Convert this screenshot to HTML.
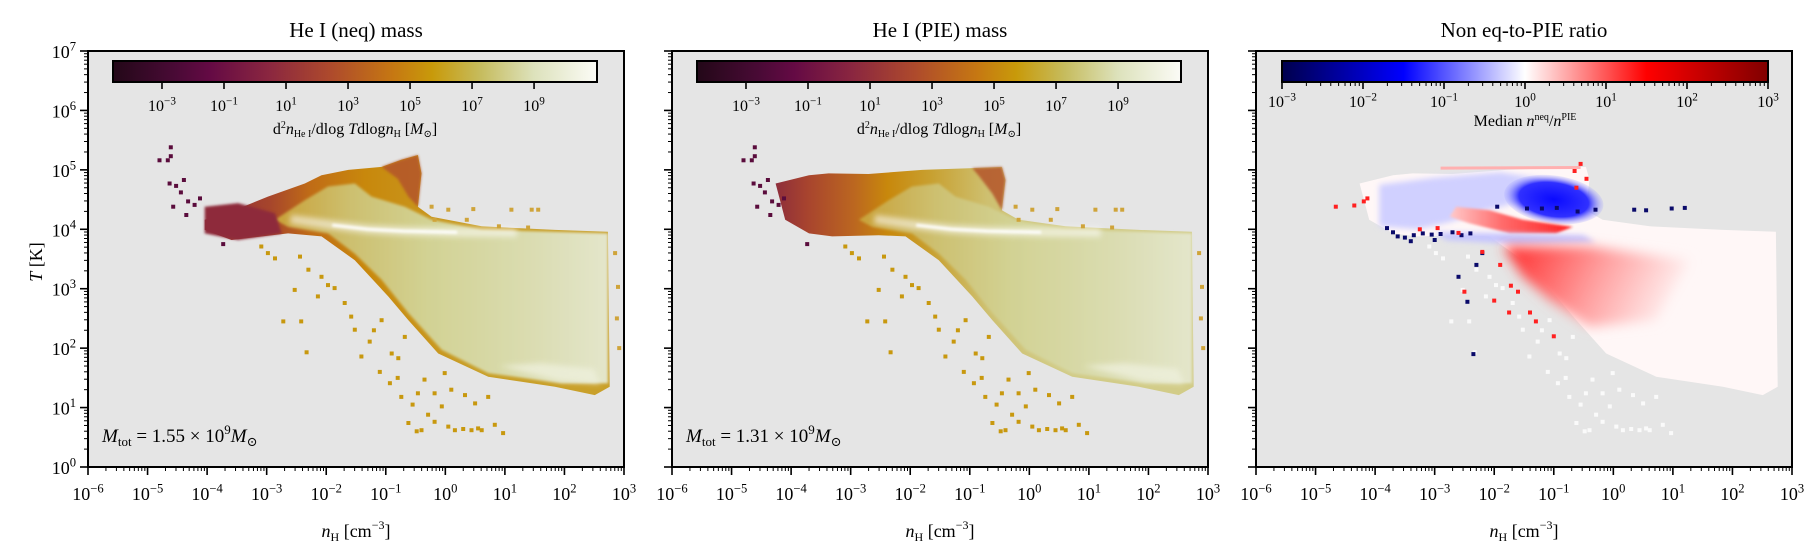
<!DOCTYPE html>
<html><head><meta charset="utf-8"><style>
html,body{margin:0;padding:0;background:#fff;}
svg{display:block;font-family:"Liberation Serif","DejaVu Serif",serif;}
</style></head><body>
<svg id="fig" width="1820" height="560" viewBox="0 0 1820 560" xmlns="http://www.w3.org/2000/svg">
<defs>
<filter id="blur1" x="-20%" y="-50%" width="140%" height="200%"><feGaussianBlur stdDeviation="1.2"/></filter>
<filter id="blur3" x="-30%" y="-80%" width="160%" height="260%"><feGaussianBlur stdDeviation="3"/></filter>
<filter id="blur6" x="-40%" y="-80%" width="180%" height="260%"><feGaussianBlur stdDeviation="6"/></filter>
<linearGradient id="cbHeat" x1="0" x2="1" y1="0" y2="0">
<stop offset="0" stop-color="#230818"/><stop offset="0.13" stop-color="#4a0a36"/><stop offset="0.2" stop-color="#640a44"/>
<stop offset="0.32" stop-color="#8a2640"/><stop offset="0.45" stop-color="#ae4a2c"/><stop offset="0.58" stop-color="#c67812"/>
<stop offset="0.66" stop-color="#c89a0a"/><stop offset="0.76" stop-color="#c6bc5e"/><stop offset="0.87" stop-color="#dde2bc"/>
<stop offset="1" stop-color="#fbfbf6"/></linearGradient>
<linearGradient id="cbSeis" x1="0" x2="1" y1="0" y2="0">
<stop offset="0" stop-color="#00004c"/><stop offset="0.25" stop-color="#0000ff"/><stop offset="0.5" stop-color="#ffffff"/>
<stop offset="0.75" stop-color="#ff0000"/><stop offset="1" stop-color="#800000"/></linearGradient>
</defs>
<g id="root"></g>
</svg>
<script>
// ---------- data (log10 nH, log10 T) ----------
const xTickExps=[-6,-5,-4,-3,-2,-1,0,1,2,3];
const yTickExps=[0,1,2,3,4,5,6,7];
const cbHeatExps=[-3,-1,1,3,5,7,9];
const cbSeisExps=[-3,-2,-1,0,1,2,3];
const titles=["He I (neq) mass","He I (PIE) mass","Non eq-to-PIE ratio"];
const totalMassMantissa=["1.55","1.31"];
const totalMassExp=[9,9];
const outer1=[[-4.04,4.16],[-3.59,4.30],[-2.98,4.55],[-2.36,4.77],[-2.08,4.91],[-1.63,5.00],[-1.07,5.05],[-0.74,5.17],[-0.46,5.25],[-0.40,4.94],[-0.46,4.38],[-0.23,4.21],[0.61,4.05],[1.84,3.99],[2.73,3.96],[2.76,1.35],[2.51,1.21],[1.84,1.35],[0.72,1.52],[-0.12,1.91],[-0.62,2.47],[-0.96,2.87],[-1.52,3.48],[-2.08,3.88],[-2.64,3.93],[-3.59,3.82],[-4.04,3.99]];
const inner1=[[-2.86,4.16],[-2.36,4.49],[-1.97,4.72],[-1.52,4.77],[-1.24,4.55],[-0.68,4.38],[-0.23,4.16],[0.61,3.99],[2.73,3.93],[2.73,1.41],[1.95,1.41],[0.72,1.58],[-0.06,1.97],[-0.62,2.59],[-1.07,3.15],[-1.52,3.59],[-1.97,3.93],[-2.64,4.04]];
const redBlob1=[[-4.04,4.38],[-3.48,4.44],[-2.86,4.27],[-2.75,3.93],[-3.48,3.82],[-4.04,3.93]];
const hump1=[[-1.07,5.05],[-0.74,5.17],[-0.46,5.25],[-0.40,4.94],[-0.46,4.38],[-0.62,4.55],[-0.80,4.85]];
const outer2=[[-4.26,4.77],[-3.70,4.91],[-3.37,4.94],[-2.70,4.93],[-1.80,5.00],[-0.96,5.03],[-0.46,5.05],[-0.40,4.83],[-0.46,4.32],[-0.18,4.16],[0.61,4.05],[1.84,3.99],[2.73,3.96],[2.76,1.35],[2.51,1.21],[1.84,1.35],[0.72,1.52],[-0.12,1.91],[-0.62,2.47],[-0.96,2.87],[-1.52,3.48],[-2.08,3.88],[-2.53,3.90],[-3.31,3.88],[-3.70,3.93],[-4.10,4.16]];
const hump2=[[-0.96,5.03],[-0.46,5.05],[-0.40,4.83],[-0.46,4.32],[-0.62,4.60],[-0.85,4.90]];
const ridge=[[-2.6,4.17],[-1.9,4.07],[-1.3,4.00],[-0.7,3.97],[0.2,3.95],[1.2,3.95]];
const lowerLight=[[0.9,1.70],[1.9,1.45],[2.6,1.40],[2.5,1.65],[1.6,1.75]];
const blueHalo3=[[-3.93,4.75],[-3.0,4.87],[-1.9,4.96],[-1.2,4.85],[-1.6,4.45],[-2.2,4.30],[-2.75,4.12],[-3.3,4.00],[-3.93,4.05]];
const blueCore3=[-1.0,4.50];
const redBand3=[[-2.75,4.21],[-2.64,4.38],[-2.08,4.32],[-1.52,4.16],[-0.68,4.04],[-0.96,3.93],[-1.74,3.93],[-2.42,4.10]];
const lowBlue3=[[-3.0,3.95],[-1.8,3.93],[-0.5,3.90],[-0.3,3.78],[-1.6,3.75],[-2.8,3.82]];
const redFan3=[[-1.86,3.71],[-0.40,3.71],[1.28,3.48],[0.72,2.47],[-0.40,2.36],[-1.07,2.81],[-1.52,3.20]];
const topLine3=[[-2.9,5.03],[-0.55,5.04]];
const scatterLow=[[-2.72,2.45],[-2.42,2.45],[-2.33,1.93],[-2.53,2.98],[-2.14,2.87],[-1.97,3.06],[-1.86,3.01],[-1.69,2.76],[-1.58,2.53],[-1.52,2.31],[-1.27,2.11],[-1.41,1.86],[-1.10,1.60],[-0.93,1.41],[-0.74,1.18],[-0.62,0.74],[-0.48,0.60],[-0.29,0.88],[-0.18,0.76],[-0.06,1.02],[0.16,0.62],[0.33,1.21],[0.44,0.62],[0.61,0.62],[0.83,0.71],[0.97,0.57],[-0.35,1.47],[-0.01,1.58],[-0.90,1.91],[-0.79,1.83],[-0.46,1.24],[-0.68,2.19],[-1.07,2.47],[-2.08,3.20],[-2.30,3.32],[-2.44,3.54],[-2.86,3.51],[-2.98,3.60],[-3.09,3.71],[-0.40,0.62],[0.05,0.68],[-0.18,1.24],[0.10,1.30],[0.50,1.07],[0.72,1.18],[0.30,0.64],[0.55,0.65],[-0.55,1.05],[-0.80,1.50],[-1.20,2.30]];
const scatterTopLeft=[[-4.80,5.16],[-4.66,5.16],[-4.61,5.38],[-4.61,5.23],[-4.63,4.77],[-4.52,4.73],[-4.39,4.83],[-4.44,4.62],[-4.32,4.47],[-4.21,4.41],[-4.12,4.52],[-4.57,4.38],[-4.35,4.24],[-3.73,3.75]];
const scatterRight=[[0.05,4.33],[0.47,4.34],[1.11,4.33],[1.45,4.33],[1.56,4.33],[-0.23,4.38],[-0.18,4.16],[0.36,4.16],[1.39,4.03],[0.9,4.05],[2.85,3.60],[2.90,3.03],[2.88,2.50],[2.92,2.00]];
const scatterNavy3=[[-3.80,4.02],[-3.62,3.88],[-3.50,3.86],[-3.35,3.90],[-3.20,3.93],[-3.05,3.91],[-2.90,3.92],[-2.70,3.95],[-2.55,3.90],[-2.40,3.93],[-3.70,3.95],[-3.40,3.80],[-3.00,3.82],[-2.20,3.60],[-2.30,3.40],[-2.60,3.20],[-2.45,2.78],[-2.35,1.90],[-1.95,4.38],[-1.45,4.35],[-1.20,4.35],[-0.95,4.36],[-0.60,4.30],[-0.30,4.33],[0.35,4.33],[0.55,4.32],[0.98,4.35],[1.20,4.36]];
const scatterRed3=[[-4.66,4.38],[-4.35,4.40],[-4.13,4.52],[-4.19,4.47],[-3.25,4.0],[-2.95,4.02],[-2.60,3.94],[-2.20,3.62],[-1.90,3.40],[-1.72,3.05],[-1.60,2.95],[-1.40,2.60],[-1.30,2.45],[-1.00,2.20],[-0.55,5.10],[-0.65,4.98],[-0.45,4.85],[-0.62,4.70],[-2.50,2.95],[-2.00,2.80],[-1.75,2.60]];

const X0=[88,672,1256], W=536, Y0=51, H=416;
function fx(p,v){return X0[p]+(v+6)/9*W;}
function fy(v){return Y0+H-v/7*H;}
const NS="http://www.w3.org/2000/svg";
const root=document.getElementById('root');
function el(tag,attrs,parent){const e=document.createElementNS(NS,tag);for(const k in attrs)e.setAttribute(k,attrs[k]);(parent||root).appendChild(e);return e;}
function pts(p,arr){return arr.map(d=>fx(p,d[0]).toFixed(1)+','+fy(d[1]).toFixed(1)).join(' ');}
function supText(parent,x,y,base,exp,size,anchor){
  const t=el('text',{x:x,y:y,'font-size':size,'text-anchor':anchor||'middle',fill:'#000'},parent);
  const a=el('tspan',{},t);a.textContent=base;
  const b=el('tspan',{'font-size':size*0.7,dy:-size*0.42},t);b.textContent=exp;
  return t;
}
function fmtExp(e){return e<0?'\u2212'+Math.abs(e):String(e);}
const defs=document.querySelector('defs');
function linGrad(id,x1,x2,stops){
  const g=el('linearGradient',{id:id,gradientUnits:'userSpaceOnUse',x1:x1,x2:x2,y1:0,y2:0},defs);
  stops.forEach(s=>el('stop',{offset:s[0],'stop-color':s[1]},g));
}
function scatter(g,p,arr,color,name){
  arr.forEach(d=>{
    const r=el('rect',{x:(fx(p,d[0])-2).toFixed(1),y:(fy(d[1])-2).toFixed(1),width:4,height:4,fill:color},g);
    
    
  });
}

for(let p=0;p<3;p++){
  const panel=el('g',{});
  
  
  const cp=el('clipPath',{id:'clip'+p},defs);
  el('rect',{x:X0[p],y:Y0,width:W,height:H},cp);
  const bg=el('rect',{x:X0[p],y:Y0,width:W,height:H,fill:'#e5e5e5'},panel);
  
  
  const data=el('g',{'clip-path':'url(#clip'+p+')'},panel);
  
  

  if(p<2){
    const oid='gOut'+p, iid='gIn'+p;
    if(p===0){
      linGrad(oid,fx(p,-4.1),fx(p,0.5),[[0,'#8c2a3a'],[0.25,'#a6452c'],[0.4,'#c06c16'],[0.6,'#c8880c'],[1,'#c9a02a']]);
    } else {
      linGrad(oid,fx(p,-4.3),fx(p,0.5),[[0,'#8c2c3c'],[0.12,'#a8442e'],[0.28,'#bb6620'],[0.4,'#c8880c'],[0.55,'#c8a030'],[0.75,'#cec070'],[1,'#d2cc88']]);
    }
    linGrad(iid,fx(p,-2.8),fx(p,2.8),[[0,'#c9a23a'],[0.22,'#cdc070'],[0.45,'#d2d294'],[0.75,'#dadcb0'],[1,'#e4e6cc']]);
    const o=el('polygon',{points:pts(p,p===0?outer1:outer2),fill:'url(#'+oid+')'},data);
    
    
    const i=el('polygon',{points:pts(p,inner1),fill:'url(#'+iid+')',filter:'url(#blur1)'},data);
    
    
    const hu=el('polygon',{points:pts(p,p===0?hump1:hump2),fill:'#b4552a',opacity:0.85,filter:'url(#blur1)'},data);
    
    
    if(p===0){
      const rb=el('polygon',{points:pts(p,redBlob1),fill:'#8e2c3a',filter:'url(#blur1)'},data);
      
      
    }
    const ll=el('polygon',{points:pts(p,lowerLight),fill:'#eef0dc',opacity:0.8,filter:'url(#blur3)'},data);
    
    
    const rg=el('polyline',{points:pts(p,ridge),fill:'none',stroke:'#ffffff','stroke-width':9,opacity:0.55,filter:'url(#blur3)'},data);
    
    
    const rl=el('polyline',{points:pts(p,ridge.slice(1,5)),fill:'none',stroke:'#ffffff','stroke-width':3,opacity:0.95,filter:'url(#blur1)'},data);
    
    
    scatter(data,p,scatterLow,'#c8980e','sparse-bin');
    scatter(data,p,scatterTopLeft,'#5a0c3c','sparse-bin');
    scatter(data,p,scatterRight,'#cfa43a','sparse-bin');
    const t=el('text',{x:X0[p]+14,y:442,'font-size':19,fill:'#000'},panel);
    
    
    const a=el('tspan',{'font-style':'italic'},t);a.textContent='M';
    const b=el('tspan',{'font-size':13,dy:4},t);b.textContent='tot';
    const c=el('tspan',{dy:-4},t);c.textContent=' = '+totalMassMantissa[p]+' \u00d7 10';
    const d=el('tspan',{'font-size':13,dy:-8},t);d.textContent=String(totalMassExp[p]);
    const e=el('tspan',{'font-style':'italic',dy:8},t);e.textContent='M';
    const f=el('tspan',{'font-size':13,dy:4},t);f.textContent='\u2299';
  } else {
    const body=el('polygon',{points:pts(p,outer2),fill:'#fff7f7'},data);
    
    
    const bh=el('polygon',{points:pts(p,blueHalo3),fill:'#d0d0ff',filter:'url(#blur3)'},data);
    
    
    const rad=el('radialGradient',{id:'gBlue',cx:0.5,cy:0.5,r:0.5},defs);
    el('stop',{offset:0,'stop-color':'#0a0aff'},rad);
    el('stop',{offset:0.7,'stop-color':'#3030ff'},rad);
    el('stop',{offset:1,'stop-color':'#a0a0ff','stop-opacity':0.2},rad);
    const bc=el('ellipse',{cx:fx(p,blueCore3[0]),cy:fy(blueCore3[1]),rx:50,ry:24,fill:'url(#gBlue)',transform:'rotate(8 '+fx(p,blueCore3[0])+' '+fy(blueCore3[1])+')'},data);
    
    
    linGrad('gRed3',fx(p,-2.8),fx(p,-0.7),[[0,'#ffd0d0'],[0.45,'#ff6a6a'],[1,'#ff2020']]);
    const rb=el('polygon',{points:pts(p,redBand3),fill:'url(#gRed3)',filter:'url(#blur1)'},data);
    
    
    const lb=el('polygon',{points:pts(p,lowBlue3),fill:'#c4c4ff',filter:'url(#blur3)'},data);
    
    
    const fg=el('linearGradient',{id:'gFan',gradientUnits:'userSpaceOnUse',x1:fx(p,-1.6),y1:fy(3.6),x2:fx(p,0.9),y2:fy(2.4)},defs);
    el('stop',{offset:0,'stop-color':'#ff3c3c'},fg);
    el('stop',{offset:0.5,'stop-color':'#ffa0a0'},fg);
    el('stop',{offset:1,'stop-color':'#fff4f4'},fg);
    const rf=el('polygon',{points:pts(p,redFan3),fill:'url(#gFan)',filter:'url(#blur6)'},data);
    
    
    const tl=el('polyline',{points:pts(p,topLine3),stroke:'#ffb0b0','stroke-width':3,fill:'none'},data);
    
    
    scatter(data,p,scatterLow,'#fafafa','sparse-bin');
    scatter(data,p,scatterNavy3,'#0a0a6a','sparse-bin');
    scatter(data,p,scatterRed3,'#ff2020','sparse-bin');
  }

  const fr=el('rect',{x:X0[p],y:Y0,width:W,height:H,fill:'none',stroke:'#000','stroke-width':2},panel);
  
  
  const xg=el('g',{},panel);
  
  
  xTickExps.forEach((e,k)=>{
    const x=fx(p,e);
    el('line',{x1:x,x2:x,y1:Y0+H,y2:Y0+H+8,stroke:'#000','stroke-width':1.6},xg);
    const lab=supText(xg,x,Y0+H+33,'10',fmtExp(e),18);
    
    
    if(k<xTickExps.length-1){
      for(let m=2;m<10;m++){const xm=fx(p,e+Math.log10(m));el('line',{x1:xm,x2:xm,y1:Y0+H,y2:Y0+H+4,stroke:'#000','stroke-width':1},xg);}
    }
  });
  const xt=el('text',{x:X0[p]+W/2,y:537,'font-size':18,'text-anchor':'middle'},panel);
  
  
  let s=el('tspan',{'font-style':'italic'},xt);s.textContent='n';
  s=el('tspan',{'font-size':12,dy:4},xt);s.textContent='H';
  s=el('tspan',{dy:-4},xt);s.textContent=' [cm';
  s=el('tspan',{'font-size':12,dy:-8},xt);s.textContent='\u22123';
  s=el('tspan',{dy:8},xt);s.textContent=']';
  const yg=el('g',{},panel);
  
  
  yTickExps.forEach((e,k)=>{
    const y=fy(e);
    el('line',{x1:X0[p]-8,x2:X0[p],y1:y,y2:y,stroke:'#000','stroke-width':1.6},yg);
    if(p===0){
      const lab=supText(yg,X0[p]-12,y+7,'10',fmtExp(e),18,'end');
      
      
    }
    if(k<yTickExps.length-1){
      for(let m=2;m<10;m++){const ym=fy(e+Math.log10(m));el('line',{x1:X0[p]-4,x2:X0[p],y1:ym,y2:ym,stroke:'#000','stroke-width':1},yg);}
    }
  });
  const ti=el('text',{x:X0[p]+W/2,y:37,'font-size':21,'text-anchor':'middle'},panel);
  ti.textContent=titles[p];
  
  

  const cb=el('g',{},panel);
  
  
  if(p<2){
    const cx0=X0[p]+25, cx1=X0[p]+509, cbY=61, cbH=21;
    const lo=-4.58, hi=11.03;
    const cfx=v=>cx0+(v-lo)/(hi-lo)*(cx1-cx0);
    el('rect',{x:cx0,y:cbY,width:cx1-cx0,height:cbH,fill:'url(#cbHeat)',stroke:'#000','stroke-width':2},cb);
    cbHeatExps.forEach(e=>{
      const x=cfx(e);
      el('line',{x1:x,x2:x,y1:cbY+cbH,y2:cbY+cbH+7,stroke:'#000','stroke-width':1.6},cb);
      const lab=supText(cb,x,cbY+cbH+29,'10',fmtExp(e),16);
      
      
    });
    const cl=el('text',{x:(cx0+cx1)/2,y:134,'font-size':16,'text-anchor':'middle'},cb);
    
    
    let q=el('tspan',{},cl);q.textContent='d';
    q=el('tspan',{'font-size':10,dy:-6},cl);q.textContent='2';
    q=el('tspan',{'font-style':'italic',dy:6},cl);q.textContent='n';
    q=el('tspan',{'font-size':10,dy:3},cl);q.textContent='He I';
    q=el('tspan',{dy:-3},cl);q.textContent='/dlog';
    q=el('tspan',{'font-style':'italic'},cl);q.textContent=' T';
    q=el('tspan',{},cl);q.textContent='dlog';
    q=el('tspan',{'font-style':'italic'},cl);q.textContent='n';
    q=el('tspan',{'font-size':10,dy:3},cl);q.textContent='H';
    q=el('tspan',{dy:-3},cl);q.textContent='  [';
    q=el('tspan',{'font-style':'italic'},cl);q.textContent='M';
    q=el('tspan',{'font-size':10,dy:3},cl);q.textContent='\u2299';
    q=el('tspan',{dy:-3},cl);q.textContent=']';
  } else {
    const cx0=X0[p]+26, cx1=X0[p]+512, cbY=61, cbH=21;
    const cfx=v=>cx0+(v+3)/6*(cx1-cx0);
    el('rect',{x:cx0,y:cbY,width:cx1-cx0,height:cbH,fill:'url(#cbSeis)',stroke:'#000','stroke-width':2},cb);
    cbSeisExps.forEach((e,k)=>{
      const x=cfx(e);
      el('line',{x1:x,x2:x,y1:cbY+cbH,y2:cbY+cbH+7,stroke:'#000','stroke-width':1.6},cb);
      if(k<cbSeisExps.length-1){for(let m=2;m<10;m++){const xm=cfx(e+Math.log10(m));el('line',{x1:xm,x2:xm,y1:cbY+cbH,y2:cbY+cbH+4,stroke:'#000','stroke-width':1},cb);}}
      const lab=supText(cb,x,cbY+cbH+25,'10',fmtExp(e),16);
      
      
    });
    const cl=el('text',{x:(cx0+cx1)/2,y:126,'font-size':16,'text-anchor':'middle'},cb);
    
    
    let q=el('tspan',{},cl);q.textContent='Median ';
    q=el('tspan',{'font-style':'italic'},cl);q.textContent='n';
    q=el('tspan',{'font-size':10,dy:-6},cl);q.textContent='neq';
    q=el('tspan',{dy:6},cl);q.textContent='/';
    q=el('tspan',{'font-style':'italic'},cl);q.textContent='n';
    q=el('tspan',{'font-size':10,dy:-6},cl);q.textContent='PIE';
  }
}
const yt=el('text',{x:0,y:0,'font-size':18,'text-anchor':'middle',transform:'translate(42,262) rotate(-90)'});


let s1=el('tspan',{'font-style':'italic'},yt);s1.textContent='T';
s1=el('tspan',{},yt);s1.textContent=' [K]';
</script>
</body></html>
